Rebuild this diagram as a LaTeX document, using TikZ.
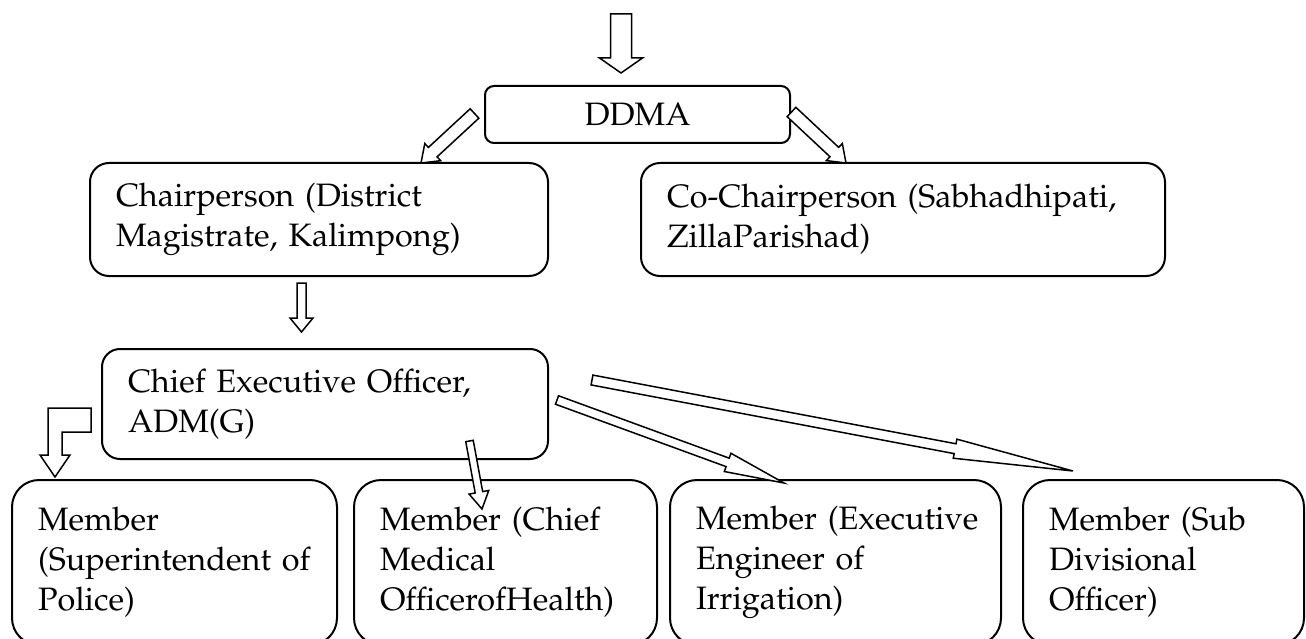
\documentclass[tikz,border=0pt]{standalone}
\usepackage[T1]{fontenc}
\usepackage{mathpazo}
\usepackage{tikz}
\usetikzlibrary{calc}
\newcommand{\boxfont}{\fontsize{32.4}{40}\selectfont\hyphenpenalty=10000\relax\exhyphenpenalty=10000\relax}
\tikzset{
    box/.style={draw, line width=2pt, rounded corners=19pt, anchor=north west, align=left,
        inner xsep=26pt, inner ysep=0pt, outer sep=0pt, font=\boxfont},
    blk/.style={draw, line width=1.5pt, fill=white, line join=miter},
}
% hollow block arrow: start, tip, half shaft, half head, head length
\newcommand{\blockarrow}[5]{%
    \coordinate (hb) at ($(#2)!#5!(#1)$);
    \draw[blk] ($(#1)!#3!90:(#2)$) -- ($(hb)!#3!90:(#2)$) -- ($(hb)!#4!90:(#2)$) -- (#2)
        -- ($(hb)!#4!-90:(#2)$) -- ($(hb)!#3!-90:(#2)$) -- ($(#1)!#3!-90:(#2)$) -- cycle;
}

\begin{document}
\begin{tikzpicture}[x=1pt, y=-1pt]
    \useasboundingbox (0,0) rectangle (1306,639);

    \node[box, text width=253pt, minimum height=57pt, align=center, rounded corners=9pt] (ddma) at (485,86) {DDMA};
    \node[box, text width=406pt, minimum height=113pt] (chair) at (90,163) {Chairperson~(District\\Magistrate,~Kalimpong)};
    \node[box, text width=472pt, minimum height=113pt] (cochair) at (641,163) {Co-Chairperson~(Sabhadhipati,\\ZillaParishad)};
    \node[box, text width=394pt, minimum height=110pt, rounded corners=18pt] (ceo) at (102,349) {Chief~Executive~Officer,\\ADM(G)};

    \node[box, text width=273pt, minimum height=165pt, rounded corners=27pt] (police) at (12,480) {Member\\(Superintendent~of\\Police)};
    \node[box, text width=251pt, minimum height=165pt, rounded corners=27pt] (health) at (354,480) {Member~(Chief\\Medical\\OfficerofHealth)};
    \node[box, text width=279pt, minimum height=165pt, rounded corners=27pt] (irrig) at (670,480) {Member~(Executive\\Engineer~of\\Irrigation)};
    \node[box, text width=229pt, minimum height=165pt, rounded corners=27pt] (sdo) at (1023,480) {Member~(Sub\\Divisional\\Officer)};

    \coordinate (in0) at (621,14);     \coordinate (in1) at (621,73);
    \coordinate (dl0) at (474.5,113.5); \coordinate (dl1) at (421,163);
    \coordinate (dr0) at (791.5,112);  \coordinate (dr1) at (846,163);
    \coordinate (ce0) at (301.5,283);  \coordinate (ce1) at (301.5,332);
    \coordinate (he0) at (469.5,441);  \coordinate (he1) at (482,509);
    \coordinate (ir0) at (557,400);    \coordinate (ir1) at (784,483);
    \coordinate (sd0) at (592,380);    \coordinate (sd1) at (1073,471);
    \coordinate (po1) at (55,477);

    \blockarrow{in0}{in1}{10.5pt}{21.5pt}{15pt}
    \blockarrow{dl0}{dl1}{6.4pt}{11.7pt}{16pt}
    \blockarrow{dr0}{dr1}{6.4pt}{11.7pt}{16pt}
    \blockarrow{ce0}{ce1}{4.5pt}{11.5pt}{14pt}
    \blockarrow{he0}{he1}{3.8pt}{10pt}{17pt}
    \blockarrow{ir0}{ir1}{4.5pt}{9.7pt}{60pt}
    \blockarrow{sd0}{sd1}{5pt}{9.7pt}{120pt}
    \draw[blk] (91,408) -- (48,408) -- (48,455) -- (40,455) -- (po1) -- (70,455) -- (62,455) -- (62,432) -- (91,432) -- cycle;
\end{tikzpicture}
\end{document}
